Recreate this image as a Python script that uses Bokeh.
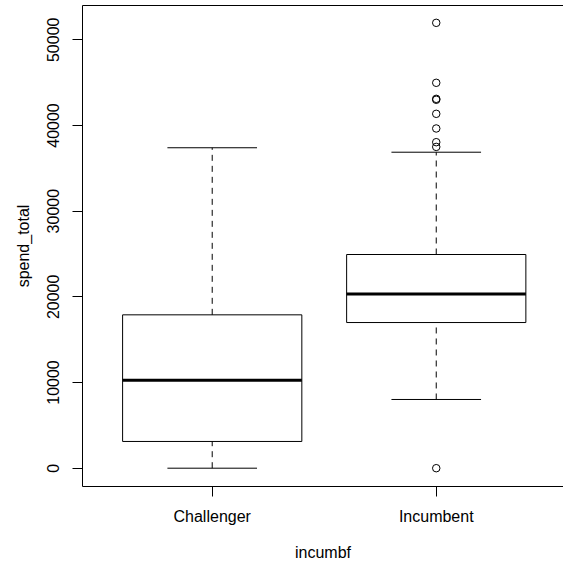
from bokeh.plotting import figure
from bokeh.models import Range1d, FixedTicker, LinearAxis, ColumnDataSource
from bokeh.embed import file_html
from bokeh.resources import INLINE

# ---- data ----
categories = ["Challenger", "Incumbent"]
whisker_low = [0, 8020]
q1 = [3120, 17000]
median = [10270, 20330]
q3 = [17900, 24940]
whisker_high = [37400, 36880]
outlier_group = ["Incumbent"] * 9
outlier_values = [0, 37500, 38050, 39650, 41360, 43000, 43110, 44980, 51980]
y_ticks = [0, 10000, 20000, 30000, 40000, 50000]

x_label = "incumbf"
y_label = "spend_total"

FONT = "Liberation Sans"

pos = [i + 1 for i in range(len(categories))]
box_half = 0.4
cap_half = 0.2

src = ColumnDataSource(dict(
    x=pos,
    left=[x - box_half for x in pos],
    right=[x + box_half for x in pos],
    cap_l=[x - cap_half for x in pos],
    cap_r=[x + cap_half for x in pos],
    lo=whisker_low, q1=q1, med=median, q3=q3, hi=whisker_high,
))
out_src = ColumnDataSource(dict(
    x=[categories.index(g) + 1 for g in outlier_group],
    y=outlier_values,
))

p = figure(width=563, height=564, output_backend="svg", toolbar_location=None,
           x_range=Range1d(0.421, 2.568), y_range=Range1d(-2136, 54003),
           min_border_left=82, min_border_right=0, min_border_top=5,
           min_border_bottom=78)
p.outline_line_color = None
p.outline_line_alpha = 0
p.xgrid.visible = False
p.ygrid.visible = False
p.background_fill_color = "white"
p.border_fill_color = "white"

# boxes
p.quad(left="left", right="right", bottom="q1", top="q3", source=src,
       fill_color=None, line_color="black", line_width=1)
# whiskers (dashed)
p.segment(x0="x", x1="x", y0="q3", y1="hi", source=src,
          line_color="black", line_width=1, line_dash="6 5")
p.segment(x0="x", x1="x", y0="lo", y1="q1", source=src,
          line_color="black", line_width=1, line_dash="6 5")
# caps
p.segment(x0="cap_l", x1="cap_r", y0="hi", y1="hi", source=src,
          line_color="black", line_width=1)
p.segment(x0="cap_l", x1="cap_r", y0="lo", y1="lo", source=src,
          line_color="black", line_width=1)
# medians
p.segment(x0="left", x1="right", y0="med", y1="med", source=src,
          line_color="black", line_width=3)
# outliers
p.scatter(x="x", y="y", source=out_src, marker="circle", size=7.5,
          fill_color=None, line_color="black", line_width=1)

# axes
xa = p.xaxis[0]
xa.ticker = FixedTicker(ticks=pos)
xa.major_label_overrides = {x: c for x, c in zip(pos, categories)}
xa.axis_label = x_label
ya = p.yaxis[0]
ya.ticker = FixedTicker(ticks=y_ticks)
ya.major_label_overrides = {t: str(t) for t in y_ticks}
ya.axis_label = y_label
ya.major_label_orientation = "vertical"

for ax in (xa, ya):
    ax.minor_tick_line_color = None
    ax.major_tick_in = 0
    ax.major_tick_out = 10
    ax.major_tick_line_color = "black"
    ax.axis_line_color = "black"
    ax.major_label_text_font = FONT
    ax.major_label_text_font_size = "16px"
    ax.major_label_text_color = "black"
    ax.axis_label_text_font = FONT
    ax.axis_label_text_font_size = "16px"
    ax.axis_label_text_font_style = "normal"
    ax.axis_label_text_color = "black"

xa.major_label_standoff = 11
xa.axis_label_standoff = 16
ya.major_label_standoff = 13
ya.axis_label_standoff = 13

# top frame line
top = LinearAxis(ticker=FixedTicker(ticks=[]), major_tick_out=0, major_tick_in=0,
                 minor_tick_out=0, minor_tick_in=0, major_label_text_font_size="0px",
                 axis_line_color="black")
p.add_layout(top, "above")

open("out.html", "w").write(file_html(p, INLINE))
